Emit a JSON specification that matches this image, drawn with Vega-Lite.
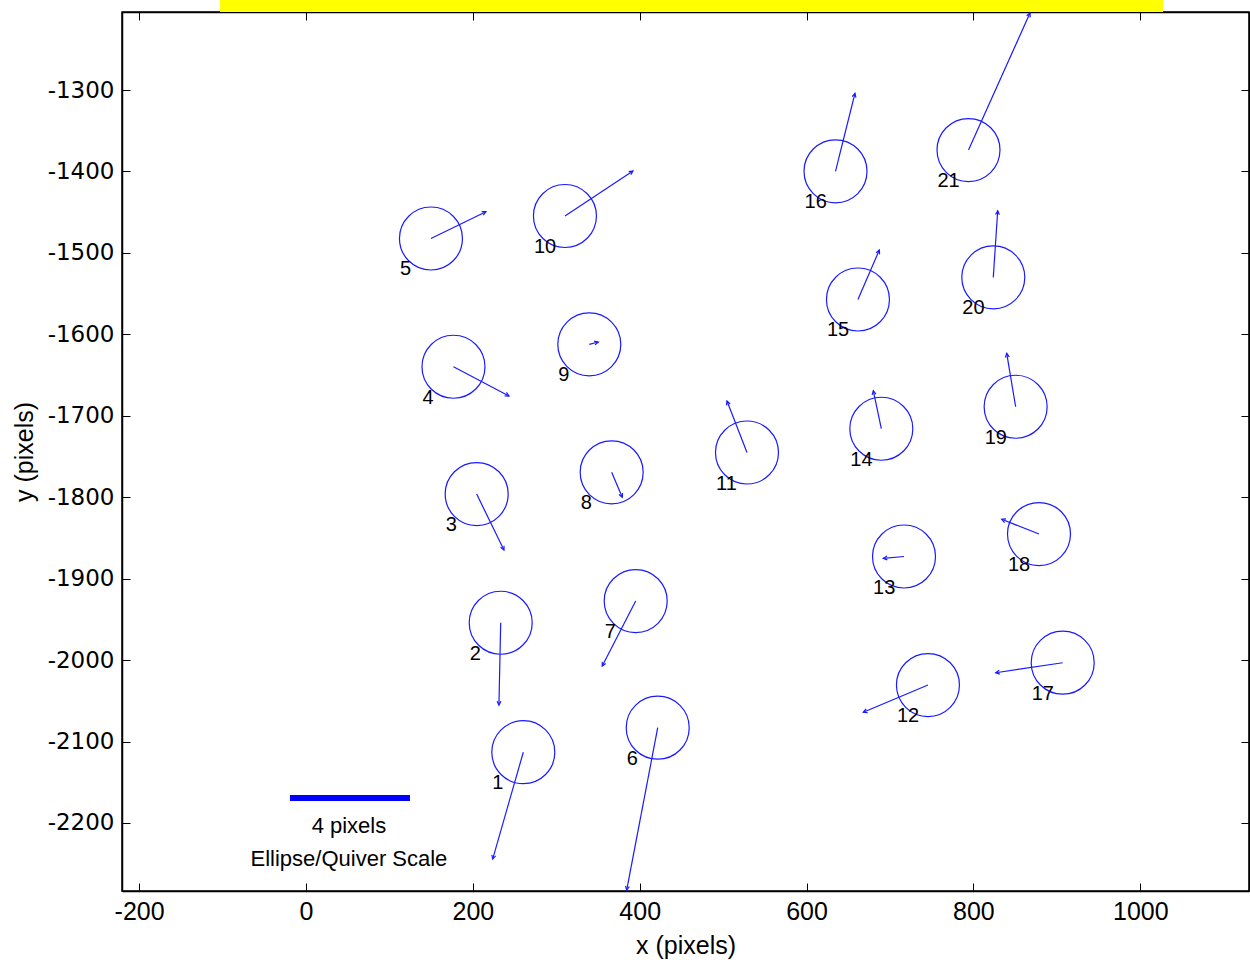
{
  "$schema": "https://vega.github.io/schema/vega-lite/v6.json",
  "width": 1127,
  "height": 879,
  "autosize": {"type": "none"},
  "padding": {"left": 122, "top": 12, "right": 1, "bottom": 69},
  "background": "white",
  "view": {"stroke": "black", "strokeWidth": 1.5},
  "config": {
    "axis": {
      "grid": false,
      "domainColor": "black",
      "domainWidth": 1.5,
      "tickColor": "black",
      "tickWidth": 1,
      "labelColor": "black",
      "titleColor": "black",
      "labelFont": "Liberation Sans",
      "titleFont": "Liberation Sans",
      "titleFontWeight": "normal",
      "labelExpr": "'' + datum.value"
    }
  },
  "datasets": {
    "stations": [
      {"id": 1, "cx": 260.5, "cy": -2113.1, "tx": 223.8, "ty": -2244.3},
      {"id": 2, "cx": 233.4, "cy": -1954.1, "tx": 231.3, "ty": -2055.2},
      {"id": 3, "cx": 204.6, "cy": -1796.1, "tx": 237.3, "ty": -1864.8},
      {"id": 4, "cx": 176.8, "cy": -1639.8, "tx": 243.3, "ty": -1675.7},
      {"id": 5, "cx": 149.8, "cy": -1482.3, "tx": 215.7, "ty": -1449.4},
      {"id": 6, "cx": 421.6, "cy": -2083.0, "tx": 384.4, "ty": -2282.3},
      {"id": 7, "cx": 395.2, "cy": -1927.5, "tx": 355.1, "ty": -2007.3},
      {"id": 8, "cx": 366.4, "cy": -1769.4, "tx": 379.1, "ty": -1800.1},
      {"id": 9, "cx": 339.6, "cy": -1612.3, "tx": 350.4, "ty": -1609.4},
      {"id": 10, "cx": 310.4, "cy": -1454.7, "tx": 391.9, "ty": -1399.5},
      {"id": 11, "cx": 528.6, "cy": -1745.1, "tx": 504.6, "ty": -1681.9},
      {"id": 12, "cx": 745.5, "cy": -2030.6, "tx": 668.0, "ty": -2064.1},
      {"id": 13, "cx": 716.8, "cy": -1872.8, "tx": 692.0, "ty": -1875.0},
      {"id": 14, "cx": 689.6, "cy": -1715.9, "tx": 680.0, "ty": -1669.2},
      {"id": 15, "cx": 661.6, "cy": -1557.2, "tx": 687.2, "ty": -1496.5},
      {"id": 16, "cx": 634.7, "cy": -1399.8, "tx": 658.0, "ty": -1304.1},
      {"id": 17, "cx": 907.0, "cy": -2003.2, "tx": 826.7, "ty": -2015.5},
      {"id": 18, "cx": 878.6, "cy": -1845.2, "tx": 833.9, "ty": -1827.1},
      {"id": 19, "cx": 850.6, "cy": -1688.9, "tx": 839.9, "ty": -1623.3},
      {"id": 20, "cx": 823.8, "cy": -1530.0, "tx": 829.1, "ty": -1448.2},
      {"id": 21, "cx": 794.1, "cy": -1373.7, "tx": 867.8, "ty": -1205.5}
    ],
    "scalebar": [{"x": -19.2, "x2": 124.7, "y": -2169.4}],
    "scaletext": [
      {"x": 51.5, "y": -2203.7, "t": "4 pixels"},
      {"x": 51.5, "y": -2244.3, "t": "Ellipse/Quiver Scale"}
    ],
    "banner": [{"x": -103.1, "x2": 1027.2, "y": -1204.2, "y2": -1180}]
  },
  "resolve": {"axis": {"x": "independent", "y": "independent"}},
  "layer": [
    {
      "data": {"name": "stations"},
      "mark": {"type": "point", "shape": "circle", "filled": false, "size": 3969, "stroke": "#1a1aff", "strokeWidth": 1.2, "opacity": 1},
      "encoding": {
        "x": {
          "field": "cx", "type": "quantitative",
          "scale": {"domain": [-220.5, 1130.3], "nice": false, "zero": false},
          "axis": {
            "orient": "bottom",
            "values": [-200, 0, 200, 400, 600, 800, 1000],
            "tickSize": -8,
            "labelPadding": 16,
            "labelFontSize": 25,
            "title": "x (pixels)",
            "titleFontSize": 25,
            "titlePadding": 9
          }
        },
        "y": {
          "field": "cy", "type": "quantitative",
          "scale": {"domain": [-2283.5, -1204.2], "nice": false, "zero": false},
          "axis": {
            "orient": "left",
            "values": [-2200, -2100, -2000, -1900, -1800, -1700, -1600, -1500, -1400, -1300],
            "tickSize": -8,
            "labelPadding": 16,
            "labelFont": "DejaVu Sans",
            "labelFontSize": 23,
            "title": "y (pixels)",
            "titleFontSize": 25,
            "titlePadding": 10
          }
        }
      }
    },
    {
      "data": {"name": "stations"},
      "mark": {"type": "rule", "stroke": "#1a1aff", "strokeWidth": 1.2},
      "encoding": {
        "x": {
          "field": "cx", "type": "quantitative",
          "scale": {"domain": [-220.5, 1130.3], "nice": false, "zero": false},
          "axis": {"orient": "top", "values": [-200, 0, 200, 400, 600, 800, 1000], "tickSize": -8, "labels": false, "title": null}
        },
        "y": {
          "field": "cy", "type": "quantitative",
          "scale": {"domain": [-2283.5, -1204.2], "nice": false, "zero": false},
          "axis": {"orient": "right", "values": [-2200, -2100, -2000, -1900, -1800, -1700, -1600, -1500, -1400, -1300], "tickSize": -8, "labels": false, "title": null}
        },
        "x2": {"field": "tx"},
        "y2": {"field": "ty"}
      }
    },
    {
      "data": {"name": "stations"},
      "transform": [
        {"calculate": "atan2(datum.tx - datum.cx, datum.ty - datum.cy) * 180 / PI", "as": "heading"}
      ],
      "mark": {"type": "point", "shape": "M-0.5,1L0,0L0.5,1", "filled": false, "size": 60, "stroke": "#1a1aff", "strokeWidth": 1.2, "opacity": 1},
      "encoding": {
        "x": {"field": "tx", "type": "quantitative", "axis": null},
        "y": {"field": "ty", "type": "quantitative", "axis": null},
        "angle": {"field": "heading", "type": "quantitative", "scale": null}
      }
    },
    {
      "data": {"name": "stations"},
      "mark": {"type": "text", "align": "left", "baseline": "middle", "dx": -31, "dy": 31, "font": "Liberation Sans", "fontSize": 20, "color": "black"},
      "encoding": {
        "x": {"field": "cx", "type": "quantitative", "axis": null},
        "y": {"field": "cy", "type": "quantitative", "axis": null},
        "text": {"field": "id"}
      }
    },
    {
      "data": {"name": "scalebar"},
      "mark": {"type": "rule", "stroke": "#0000ff", "strokeWidth": 6},
      "encoding": {
        "x": {"field": "x", "type": "quantitative", "axis": null},
        "x2": {"field": "x2"},
        "y": {"field": "y", "type": "quantitative", "axis": null}
      }
    },
    {
      "data": {"name": "scaletext"},
      "mark": {"type": "text", "align": "center", "baseline": "middle", "font": "Liberation Sans", "fontSize": 22, "color": "black"},
      "encoding": {
        "x": {"field": "x", "type": "quantitative", "axis": null},
        "y": {"field": "y", "type": "quantitative", "axis": null},
        "text": {"field": "t"}
      }
    },
    {
      "data": {"name": "banner"},
      "mark": {"type": "rect", "fill": "#ffff00", "clip": false},
      "encoding": {
        "x": {"field": "x", "type": "quantitative", "axis": null},
        "x2": {"field": "x2"},
        "y": {"field": "y", "type": "quantitative", "axis": null},
        "y2": {"field": "y2"}
      }
    }
  ]
}
